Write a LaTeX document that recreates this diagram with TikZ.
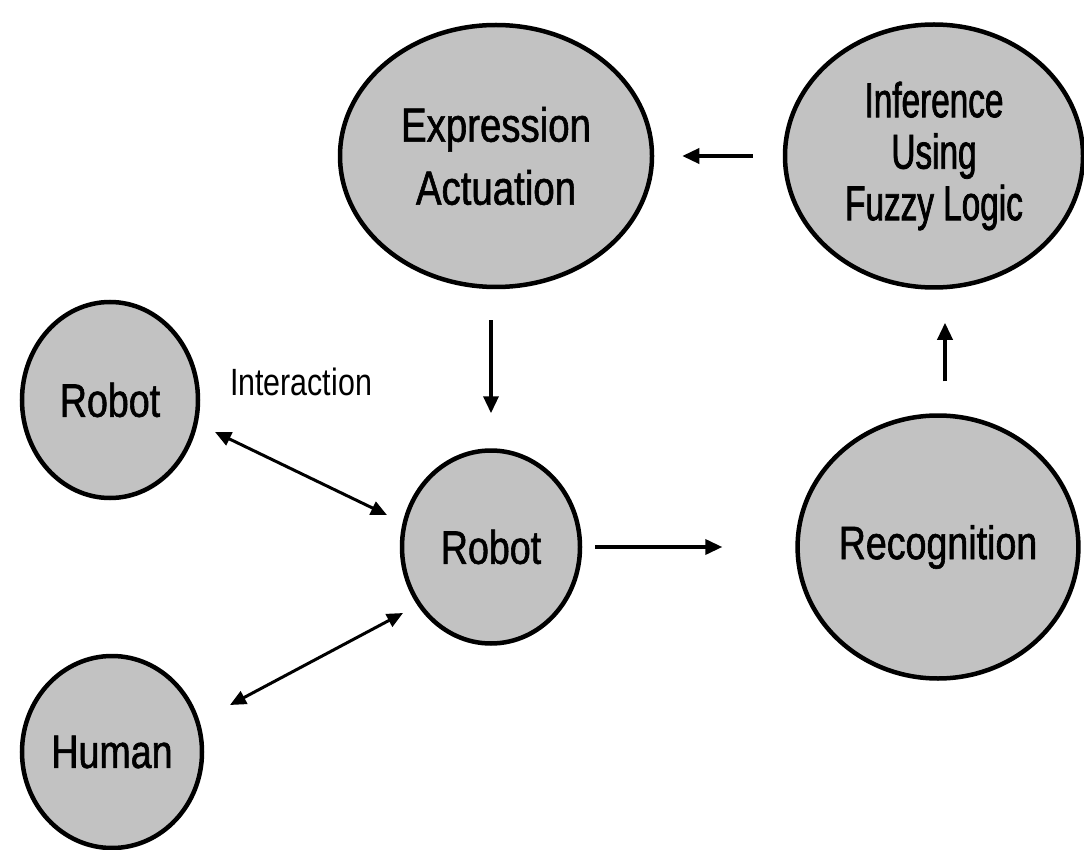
\documentclass[tikz,border=0pt]{standalone}
\usepackage{fontspec}
\newfontfamily\diagfont[FakeStretch=0.8, FakeBold=1.2]{Liberation Sans}
\newfontfamily\narrowfont[FakeStretch=0.68, FakeBold=1.5]{Liberation Sans}
\newfontfamily\notefont[FakeStretch=0.8]{Liberation Sans}
\usetikzlibrary{shapes.geometric,arrows.meta}

\tikzset{
  bubble/.style={ellipse, draw=black, line width=4.5pt, fill=black!24,
    inner sep=0pt, align=center, font=\diagfont\fontsize{47}{60}\selectfont},
  flow/.style={line width=3.5pt, -{Triangle[length=17pt,width=15pt]}},
  twoway/.style={line width=3pt,
    {Triangle[length=16pt,width=14pt]}-{Triangle[length=16pt,width=14pt]}},
  note/.style={font=\notefont\fontsize{38}{46}\selectfont},
}

\begin{document}
\begin{tikzpicture}[x=1pt, y=-1pt]
  \useasboundingbox (0,0) rectangle (1084,850);

  % processing loop
  \node[bubble, minimum width=312pt, minimum height=262pt,
        font=\diagfont\fontsize{48}{63}\selectfont] (expr) at (496,156)
        {Expression\\Actuation};
  \node[bubble, minimum width=298pt, minimum height=263pt,
        font=\narrowfont\fontsize{49}{51.5}\selectfont] (infer) at (934,156)
        {Inference\\Using\\Fuzzy Logic};
  \node[bubble, minimum width=178pt, minimum height=193pt] (robotM) at (491,547) {Robot};
  \node[bubble, minimum width=280pt, minimum height=263pt] (recog) at (938,547) {Recognition};

  % interaction partners
  \node[bubble, minimum width=176pt, minimum height=196pt] (robotL) at (110,400) {Robot};
  \node[bubble, minimum width=180pt, minimum height=192pt] (human) at (112,752) {Human};

  \node[note] (inter) at (301,382) {Interaction};

  % loop arrows
  \draw[flow, shorten <=30pt, shorten >=28pt] (infer.west) -- (expr.east);
  \draw[flow, shorten <=31pt, shorten >=35pt] (robotM.north |- expr.south) -- (robotM.north);
  \draw[flow, shorten <=13pt, shorten >=73pt] (robotM.east) -- (recog.west);
  \draw[flow, shorten <=32pt, shorten >=33pt]
    ([xshift=7pt]recog.north) -- ([xshift=7pt]recog.north |- infer.south);

  % two-way interaction arrows
  \coordinate (rl) at (215,432);
  \coordinate (rm) at (387,515);
  \coordinate (hu) at (230,705);
  \coordinate (hm) at (403,613);
  \draw[twoway] (rl) -- (rm);
  \draw[twoway] (hu) -- (hm);
\end{tikzpicture}
\end{document}
